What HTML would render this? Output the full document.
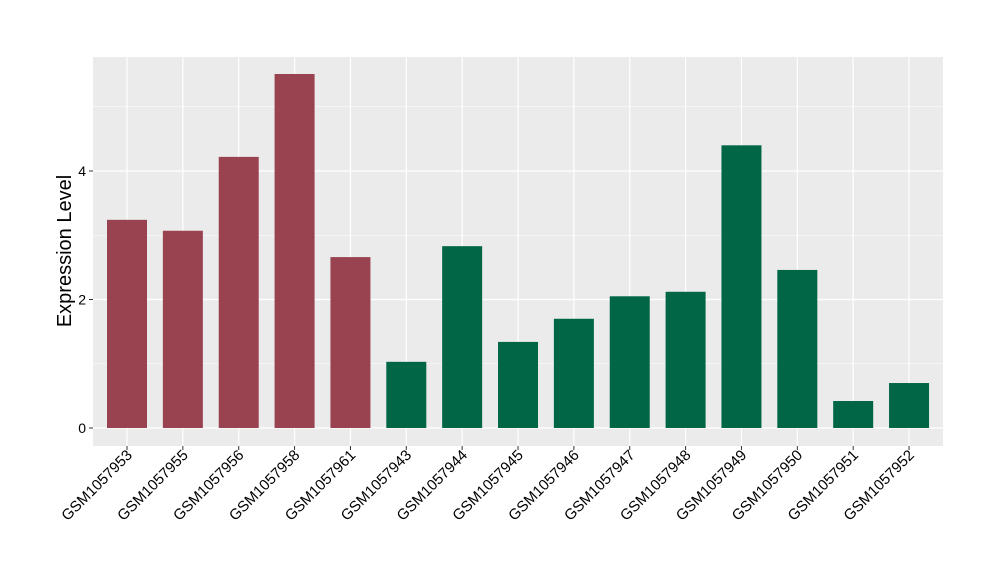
<!DOCTYPE html>
<html><head><meta charset="utf-8"><style>body{margin:0;background:#fff}svg{display:block;font-family:"Liberation Sans",sans-serif}</style></head>
<body>
<svg id="chart" width="1000" height="580" xmlns="http://www.w3.org/2000/svg">
<rect x="93" y="57" width="850" height="389" fill="#ebebeb"/>
<g id="grid"></g><g id="bars"></g><g id="axes"></g>
<text transform="translate(71,251) rotate(-90)" text-anchor="middle" font-size="20" fill="#000">Expression Level</text>
</svg>
<script>
const categories=["GSM1057953","GSM1057955","GSM1057956","GSM1057958","GSM1057961","GSM1057943","GSM1057944","GSM1057945","GSM1057946","GSM1057947","GSM1057948","GSM1057949","GSM1057950","GSM1057951","GSM1057952"];
const values=[3.24,3.07,4.22,5.51,2.66,1.03,2.83,1.34,1.70,2.05,2.12,4.40,2.46,0.42,0.70];
const groups=["a","a","a","a","a","b","b","b","b","b","b","b","b","b","b"];
const yTicks=[0,2,4];
const yMinor=[1,3,5];
const NS="http://www.w3.org/2000/svg";
const y=v=>428-v*64.25;
const x=i=>127+i*55.86;
function mk(t,a,p){const e=document.createElementNS(NS,t);for(const k in a)e.setAttribute(k,a[k]);p.appendChild(e);return e;}
const grid=document.getElementById('grid'),bars=document.getElementById('bars'),axes=document.getElementById('axes');
yMinor.forEach(v=>{const l=mk('line',{x1:93,x2:943,y1:y(v),y2:y(v),stroke:'#fff','stroke-width':0.6},grid);

});
yTicks.forEach(v=>{const l=mk('line',{x1:93,x2:943,y1:y(v),y2:y(v),stroke:'#fff','stroke-width':1.2},grid);


const t=mk('line',{x1:89,x2:93,y1:y(v),y2:y(v),stroke:'#333'},axes);


const tx=mk('text',{x:86,y:y(v)+5,'text-anchor':'end','font-size':14,fill:'#000'},axes);tx.textContent=v;

});
categories.forEach((c,i)=>{const g=mk('line',{x1:x(i),x2:x(i),y1:57,y2:446,stroke:'#fff','stroke-width':1.2},grid);


const r=mk('rect',{x:x(i)-20,width:40,y:y(values[i]),height:y(0)-y(values[i]),fill:groups[i]==='a'?'#994350':'#006646'},bars);


const t=mk('line',{x1:x(i),x2:x(i),y1:446,y2:450,stroke:'#333'},axes);


const tx=mk('text',{transform:`translate(${x(i)+6},${456}) rotate(-45)`,'text-anchor':'end','font-size':15,fill:'#000'},axes);tx.textContent=c;

});
</script>
</body></html>
